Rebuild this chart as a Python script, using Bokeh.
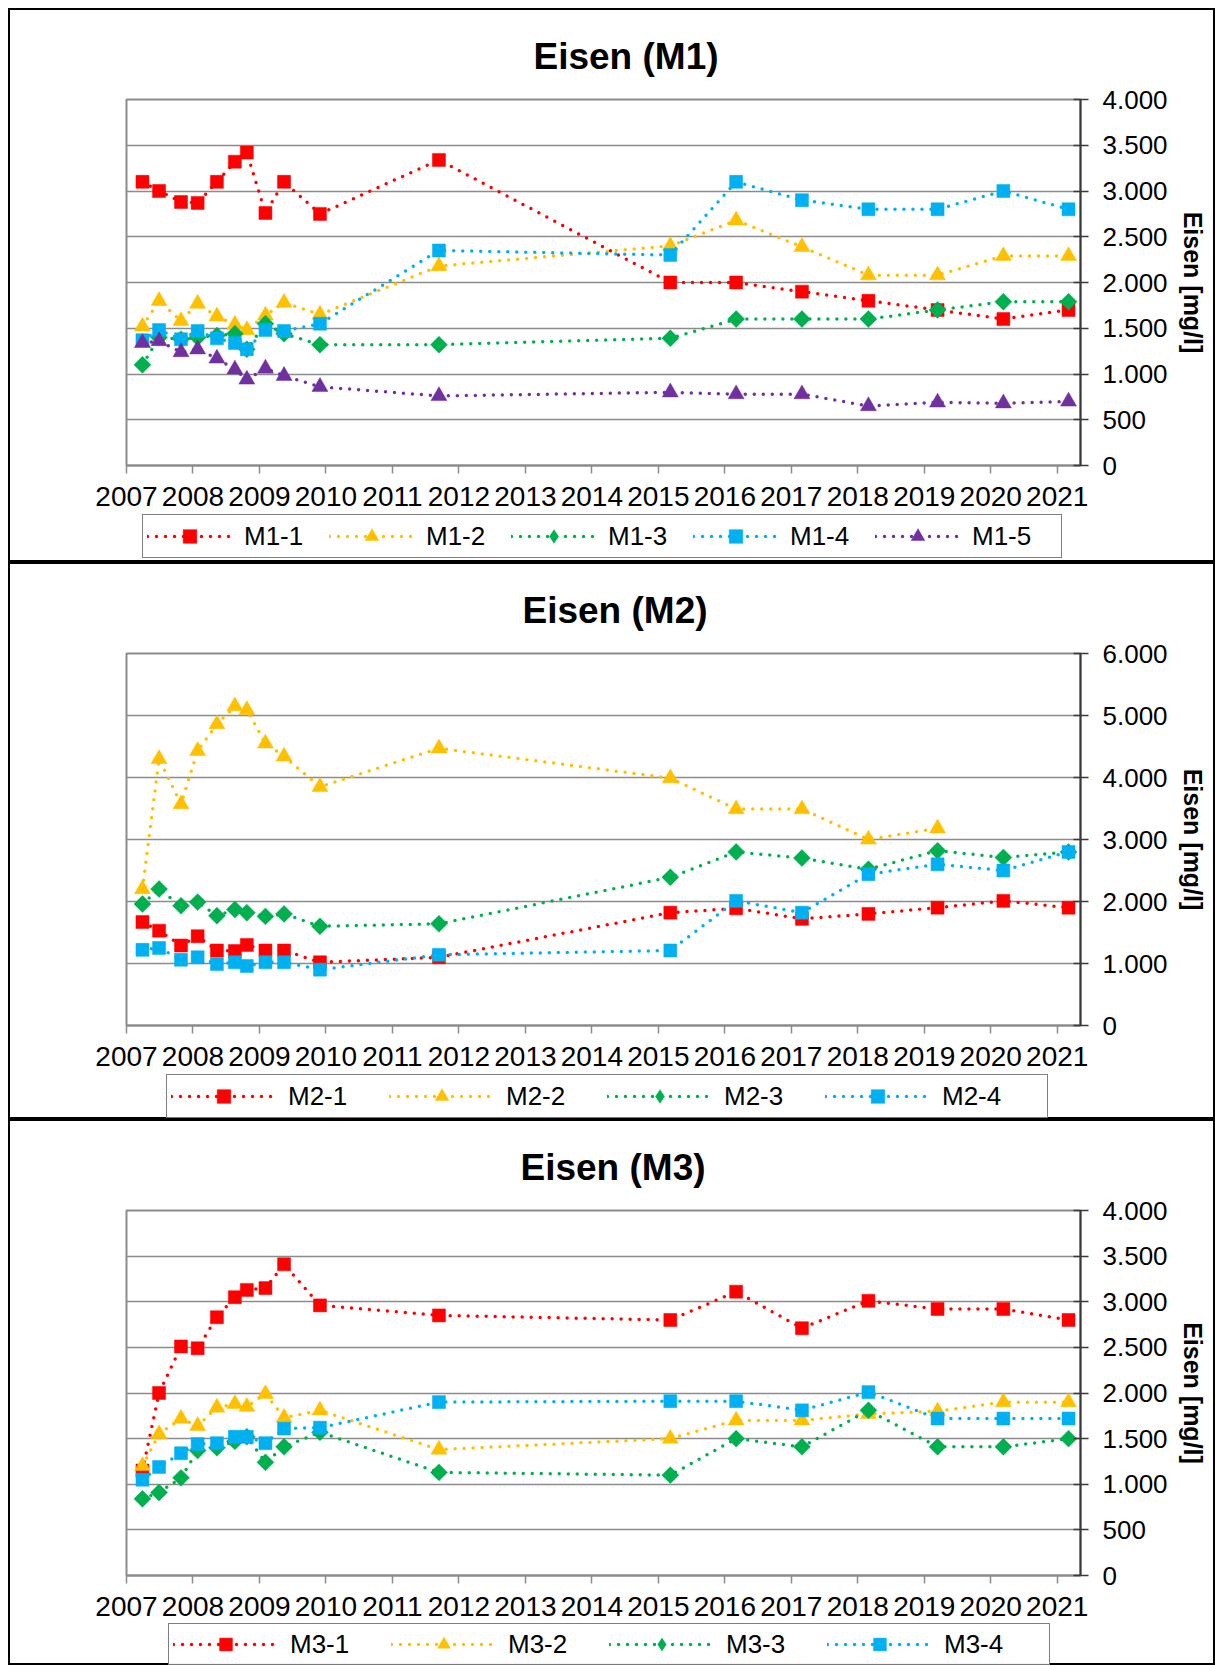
import math
from bokeh.plotting import figure
from bokeh.models import Range1d, FixedTicker, Legend, LegendItem, Spacer
from bokeh.layouts import column, row
from bokeh.embed import file_html
from bokeh.resources import INLINE

# ---------------- data ----------------
dates = [2007.24, 2007.49, 2007.82, 2008.07, 2008.36, 2008.63, 2008.81, 2009.09,
         2009.37, 2009.91, 2011.70, 2015.18, 2016.17, 2017.16, 2018.16, 2019.20,
         2020.19, 2021.17]
years = list(range(2007, 2022))

m1_names = ["M1-1", "M1-2", "M1-3", "M1-4", "M1-5"]
m1_1 = [3100, 3000, 2880, 2870, 3100, 3320, 3420, 2760, 3100, 2750, 3340, 2000, 2000, 1900, 1800, 1700, 1600, 1700]
m1_2 = [1520, 1800, 1580, 1770, 1630, 1540, 1480, 1640, 1780, 1650, 2180, 2400, 2680, 2390, 2080, 2080, 2290, 2290]
m1_3 = [1100, 1400, 1380, 1400, 1420, 1440, 1270, 1550, 1440, 1320, 1320, 1390, 1600, 1600, 1600, 1700, 1790, 1790]
m1_4 = [1370, 1480, 1380, 1470, 1390, 1340, 1270, 1480, 1470, 1550, 2350, 2300, 3100, 2900, 2800, 2800, 3000, 2800]
m1_5 = [1340, 1360, 1240, 1270, 1170, 1050, 940, 1060, 980, 860, 760, 800, 780, 780, 650, 690, 680, 700]

m2_names = ["M2-1", "M2-2", "M2-3", "M2-4"]
m2_1 = [1670, 1530, 1290, 1440, 1210, 1200, 1300, 1210, 1210, 1020, 1100, 1820, 1890, 1720, 1800, 1900, 2010, 1900]
m2_2 = [2200, 4300, 3570, 4430, 4860, 5150, 5090, 4550, 4340, 3850, 4470, 3990, 3490, 3490, 3000, 3180]
m2_3 = [1960, 2200, 1930, 1990, 1770, 1870, 1820, 1760, 1800, 1600, 1640, 2390, 2800, 2700, 2520, 2820, 2710, 2800]
m2_4 = [1220, 1250, 1060, 1100, 990, 1020, 960, 1020, 1020, 900, 1140, 1210, 2010, 1820, 2440, 2600, 2500, 2800]

m3_names = ["M3-1", "M3-2", "M3-3", "M3-4"]
m3_1 = [1150, 2000, 2510, 2490, 2830, 3050, 3130, 3150, 3410, 2960, 2850, 2800, 3110, 2710, 3010, 2920, 2920, 2800]
m3_2 = [1200, 1550, 1720, 1640, 1840, 1880, 1850, 1990, 1730, 1810, 1380, 1500, 1700, 1700, 1770, 1800, 1900, 1900]
m3_3 = [840, 910, 1070, 1370, 1400, 1470, 1520, 1240, 1410, 1570, 1130, 1100, 1500, 1410, 1810, 1410, 1410, 1500]
m3_4 = [1050, 1190, 1340, 1440, 1450, 1520, 1520, 1450, 1610, 1620, 1900, 1910, 1910, 1810, 2010, 1720, 1720, 1720]

# ---------------- style ----------------
FONT = "Liberation Sans"
RED, YEL, GRN, CYA, PUR = "#FF0000", "#FFC000", "#00B050", "#00B0F0", "#7030A0"
GRAY = "#8C8C8C"
DARK = "#3A3A3A"
BORDER = "2px solid black"
MARK = {
    "sq": dict(marker="square", size=13, angle=0.0),
    "tri": dict(marker="triangle", size=16, angle=0.0),
    "dia": dict(marker="square", size=12, angle=math.pi / 4),
}
# legend samples ignore the angle, so the diamond uses Bokeh's diamond there
LEG_MARK = {
    "sq": dict(marker="square", size=13),
    "tri": dict(marker="triangle", size=16),
    "dia": dict(marker="diamond", size=16),
}
LINE = dict(line_width=3.5, line_dash="0 9", line_cap="round")


def panel(title, series, colors, marks, y_end, y_step, height, top, title_offset):
    p = figure(width=1207, height=height, output_backend="svg", toolbar_location=None,
               y_axis_location="right",
               x_range=Range1d(2007, 2021.35), y_range=Range1d(0, y_end),
               min_border_left=116, min_border_right=137,
               min_border_top=top, min_border_bottom=50,
               styles={"border-top": BORDER, "border-left": BORDER,
                       "border-right": BORDER})
    p.title.text = title
    p.title.align = "left"
    p.title.text_font = FONT
    p.title.text_font_size = "37px"
    p.title.text_font_style = "bold"
    p.title.text_color = "black"
    p.title.offset = title_offset
    p.title.standoff = 46

    p.outline_line_color = GRAY
    p.outline_line_width = 2
    p.xgrid.visible = False
    yt = list(range(0, y_end + 1, y_step))
    p.ygrid.ticker = FixedTicker(ticks=yt)
    p.ygrid.grid_line_color = GRAY
    p.ygrid.grid_line_width = 1.5

    xa = p.xaxis[0]
    xa.ticker = FixedTicker(ticks=years)
    xa.major_label_overrides = {y: str(y) for y in years}
    xa.axis_line_color = GRAY
    xa.axis_line_width = 2
    xa.major_tick_line_color = GRAY
    xa.major_tick_line_width = 1.5
    xa.major_tick_in = 0
    xa.major_tick_out = 8
    xa.minor_tick_line_color = None
    xa.major_label_text_font = FONT
    xa.major_label_text_font_size = "28px"
    xa.major_label_text_color = "black"
    xa.major_label_standoff = 13

    ya = p.yaxis[0]
    ya.ticker = FixedTicker(ticks=yt)
    ya.major_label_overrides = {v: f"{v:,}".replace(",", ".") for v in yt}
    ya.axis_line_color = DARK
    ya.axis_line_width = 2
    ya.major_tick_line_color = DARK
    ya.major_tick_line_width = 1.5
    ya.major_tick_in = 7
    ya.major_tick_out = 8
    ya.minor_tick_line_color = None
    ya.major_label_text_font = FONT
    ya.major_label_text_font_size = "26px"
    ya.major_label_text_color = "black"
    ya.major_label_standoff = 14
    ya.axis_label = "Eisen [mg/l]"
    ya.axis_label_text_font = FONT
    ya.axis_label_text_font_size = "25px"
    ya.axis_label_text_font_style = "bold"
    ya.axis_label_text_color = "black"
    ya.axis_label_standoff = 8

    for vals, col, mk in zip(series, colors, marks):
        xs = dates[:len(vals)]
        p.line(xs, vals, line_color=col, **LINE)
        p.scatter(xs, vals, fill_color=col, line_color=col, line_width=0.5, **MARK[mk])
    return p


def legend_strip(series, names, colors, marks, height, loc, glyph_w, label_w, glyph_h):
    # legend-only strip: its series proxies lie outside the strip's view range
    lf = figure(width=1207, height=height, output_backend="svg", toolbar_location=None,
                x_axis_location=None, y_axis_location=None, min_border=0,
                x_range=Range1d(0, 1), y_range=Range1d(0, 1),
                styles={"border-bottom": BORDER, "border-left": BORDER,
                        "border-right": BORDER})
    lf.outline_line_color = None
    lf.xgrid.visible = False
    lf.ygrid.visible = False
    items = []
    for vals, name, col, mk in zip(series, names, colors, marks):
        xs = dates[:len(vals)]
        lr = lf.line(xs, vals, line_color=col, **LINE)
        sr = lf.scatter(xs, vals, fill_color=col, line_color=col, line_width=0.5,
                        **LEG_MARK[mk])
        items.append(LegendItem(label=name, renderers=[lr, sr], index=0))
    lg = Legend(items=items, orientation="horizontal", location=loc,
                glyph_width=glyph_w, glyph_height=glyph_h, label_height=26,
                label_standoff=12, label_width=label_w, spacing=0, padding=4,
                margin=0, border_line_color="black", border_line_width=1.5,
                background_fill_color="white",
                label_text_font=FONT, label_text_font_size="26px",
                label_text_color="black")
    lf.add_layout(lg)
    return lf


c5 = [RED, YEL, GRN, CYA, PUR]
c4 = [RED, YEL, GRN, CYA]
mk5 = ["sq", "tri", "dia", "sq", "tri"]
mk4 = ["sq", "tri", "dia", "sq"]
s1 = [m1_1, m1_2, m1_3, m1_4, m1_5]
s2 = [m2_1, m2_2, m2_3, m2_4]
s3 = [m3_1, m3_2, m3_3, m3_4]

p1 = panel("Eisen (M1)", s1, c5, mk5, 4000, 500, 505, 85, 407)
l1 = legend_strip(s1, m1_names, c5, mk5, 49, (16, 4), 85, 85, 34)
p2 = panel("Eisen (M2)", s2, c4, mk4, 6000, 1000, 511, 87, 396)
l2 = legend_strip(s2, m2_names, c4, mk4, 46, (40, 1), 105, 101, 34)
p3 = panel("Eisen (M3)", s3, c4, mk4, 4000, 500, 504, 83, 394)
l3 = legend_strip(s3, m3_names, c4, mk4, 42, (42, 0), 105, 101, 32)

stack = column(Spacer(height=8), p1, l1, p2, l2, p3, l3, spacing=0)
layout = row(Spacer(width=8), stack, spacing=0)
open("out.html", "w").write(file_html(layout, INLINE))
